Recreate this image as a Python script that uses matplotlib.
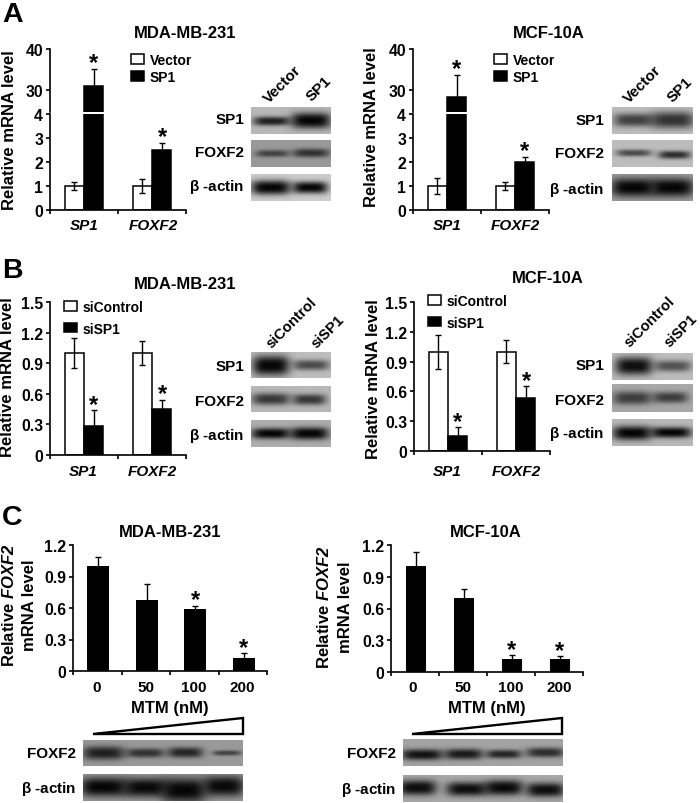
import numpy as np
import matplotlib
matplotlib.use("Agg")
import matplotlib.pyplot as plt
from matplotlib.patches import Polygon

plt.rcParams.update({
    'font.family': 'Liberation Sans', 'font.weight': 'bold',
    'mathtext.fontset': 'custom', 'mathtext.rm': 'Liberation Sans:bold',
    'mathtext.bf': 'Liberation Sans:bold', 'mathtext.it': 'Liberation Sans',
    'mathtext.bfit': 'Liberation Sans:italic:bold',
})

W, H = 700, 804
FS = 12
SMALL = 11
BETA = r'$\beta$ -actin'
FOX_LABEL = r'Relative $\mathbfit{FOXF2}$'

# ---- data -------------------------------------------------------------
genes = ['SP1', 'FOXF2']
doses = ['0', '50', '100', '200']

a1_ctrl, a1_ctrl_err = [1.0, 1.0], [0.15, 0.30]
a1_trt, a1_trt_err = [31.0, 2.5], [4.0, 0.30]
a2_ctrl, a2_ctrl_err = [1.0, 1.0], [0.32, 0.18]
a2_trt, a2_trt_err = [28.3, 2.0], [5.2, 0.20]

b1_ctrl, b1_ctrl_err = [1.0, 1.0], [0.15, 0.115]
b1_trt, b1_trt_err = [0.28, 0.45], [0.16, 0.09]
b2_ctrl, b2_ctrl_err = [1.0, 1.0], [0.17, 0.115]
b2_trt, b2_trt_err = [0.15, 0.53], [0.09, 0.12]

c1_vals, c1_err = [1.0, 0.68, 0.59, 0.12], [0.09, 0.15, 0.03, 0.05]
c2_vals, c2_err = [1.0, 0.70, 0.12, 0.12], [0.13, 0.08, 0.04, 0.03]

# Blot densitometry sketches: (lane centre, half width, band centre, half height, darkness)
blot_a1_sp1 = (.72, [(.26, .23, .54, .16, .85), (.75, .25, .52, .28, 1.0)])
blot_a1_fox = (.60, [(.27, .21, .50, .13, .60), (.75, .23, .48, .16, .70)])
blot_a1_act = (.80, [(.25, .25, .50, .27, 1.0), (.74, .22, .50, .22, 1.0)])
blot_a2_sp1 = (.74, [(.27, .25, .50, .24, .68), (.75, .27, .50, .30, .75)])
blot_a2_fox = (.74, [(.27, .22, .48, .13, .62), (.77, .20, .55, .15, .78)])
blot_a2_act = (.62, [(.26, .27, .50, .34, 1.0), (.74, .27, .50, .34, 1.0)])
blot_b1_sp1 = (.74, [(.25, .23, .52, .38, 1.0), (.75, .23, .50, .20, .62)])
blot_b1_fox = (.72, [(.25, .24, .50, .23, .72), (.73, .21, .52, .21, .72)])
blot_b1_act = (.68, [(.25, .24, .50, .20, 1.0), (.73, .24, .50, .23, 1.0)])
blot_b2_sp1 = (.74, [(.27, .23, .50, .32, .95), (.75, .23, .50, .20, .58)])
blot_b2_fox = (.66, [(.25, .24, .50, .24, .66), (.72, .22, .48, .20, .66)])
blot_b2_act = (.72, [(.25, .24, .52, .26, 1.0), (.73, .25, .50, .20, 1.0)])
blot_c1_fox = (.60, [(.13, .13, .50, .26, .82), (.39, .12, .50, .18, .70),
                     (.64, .11, .48, .20, .78), (.90, .09, .50, .10, .60)])
blot_c1_act = (.62, [(.13, .15, .48, .36, 1.0), (.39, .14, .50, .36, .97),
                     (.63, .14, .60, .46, 1.0), (.88, .13, .45, .38, .97)])
blot_c2_fox = (.64, [(.12, .13, .58, .20, .92), (.38, .12, .56, .20, .86),
                     (.63, .11, .56, .16, .80), (.89, .12, .50, .18, .75)])
blot_c2_act = (.66, [(.09, .12, .47, .28, .95), (.40, .13, .52, .26, .95),
                     (.63, .12, .47, .28, .98), (.89, .12, .55, .26, .95)])

# ---- helpers ----------------------------------------------------------
fig = plt.figure(figsize=(W / 100, H / 100), dpi=100, facecolor='white')
ov = fig.add_axes([0, 0, 1, 1], zorder=5)
ov.set_xlim(0, W); ov.set_ylim(H, 0); ov.axis('off'); ov.patch.set_alpha(0)


def pxaxes(x0, y0, x1, y1):
    ax = fig.add_axes([x0 / W, 1 - y1 / H, (x1 - x0) / W, (y1 - y0) / H])
    ax.patch.set_alpha(0)
    for s in ('top', 'right'):
        ax.spines[s].set_visible(False)
    for s in ax.spines.values():
        s.set_linewidth(1.2)
    ax.tick_params(length=3, width=1.2, labelsize=11.3, pad=2)
    return ax


def t(x, y, s, ha='center', size=FS, **kw):
    ov.text(x, y, s, ha=ha, va='center', fontsize=size, **kw)


def grouped(ax, ctrl, c_err, trt, t_err, w=0.28):
    x = np.arange(len(ctrl))
    h1 = ax.bar(x - w / 2, ctrl, w, color='white', edgecolor='black', linewidth=1.1)
    ax.errorbar(x - w / 2, ctrl, yerr=c_err, fmt='none', ecolor='black', elinewidth=1, capsize=2.2, capthick=1)
    h2 = ax.bar(x + w / 2, trt, w, color='black', edgecolor='black', linewidth=1.1)
    ax.errorbar(x + w / 2, trt, yerr=t_err, fmt='none', ecolor='black', elinewidth=1, capsize=2.2, capthick=1)
    ax.set_xlim(-0.5, 1.5)
    ax.set_xticks([-0.5, 0.5, 1.5])
    ax.set_xticklabels([])
    return h1, h2


def star(ax, x, y, dy):
    ax.annotate('*', xy=(x, y), xytext=(0, dy), textcoords='offset pixels', ha='center', va='center',
                fontsize=17, annotation_clip=False)


def legend(ax, handles, labels, x, y, spacing):
    ax.legend(handles, labels, loc='upper left', bbox_to_anchor=(x / W, 1 - y / H),
              bbox_transform=fig.transFigure, frameon=False, borderpad=0, borderaxespad=0,
              handlelength=0.92, handleheight=0.65, handletextpad=0.42,
              labelspacing=spacing, prop={'size': 10, 'weight': 'bold'})


def broken(x0, x1, ctrl, c_err, trt, t_err):
    lo = pxaxes(x0, 114.5, x1, 211)
    up = pxaxes(x0, 49.5, x1, 112.5)
    lo.set_ylim(0, 96.5 / 24); up.set_ylim(30 - (112.5 - 91) / 4.15, 30 + (91 - 49.5) / 4.15)
    h = grouped(lo, ctrl, c_err, trt, t_err)
    grouped(up, ctrl, c_err, trt, t_err)
    lo.set_yticks([0, 1, 2, 3, 4]); up.set_yticks([30, 40])
    up.spines['bottom'].set_visible(False)
    up.tick_params(axis='x', length=0)
    return lo, up, h


def blot(x0, y0, x1, y1, spec):
    bg, bands = spec
    ax = fig.add_axes([x0 / W, 1 - y1 / H, (x1 - x0) / W, (y1 - y0) / H])
    ax.axis('off')
    nx, ny = int(x1 - x0) * 2, int(y1 - y0) * 2
    X, Y = np.meshgrid((np.arange(nx) + .5) / nx, (np.arange(ny) + .5) / ny)
    img = np.full((ny, nx), float(bg))
    for cx, hw, cy, hh, d in bands:
        g = np.exp(-np.abs((X - cx) / hw) ** 4) * np.exp(-np.abs((Y - cy) / hh) ** 2.5)
        img = img * (1 - g * d) + 0.02 * g * d
    ax.imshow(img, cmap='gray', vmin=0, vmax=1, aspect='auto', interpolation='bilinear')


def gene_labels(a, b, y):
    t(a, y, genes[0], style='italic', size=SMALL)
    t(b, y, genes[1], style='italic', size=SMALL)


# ---- panel letters / titles -------------------------------------------
for y, s in ((22, 'A'), (278, 'B'), (525, 'C')):
    ov.text(2, y, s, ha='left', va='baseline', fontsize=20.5)
for x, y, s in ((185, 34, 'MDA-MB-231'), (549, 34, 'MCF-10A'), (185, 285, 'MDA-MB-231'),
                (548, 279, 'MCF-10A'), (170, 533, 'MDA-MB-231'), (486, 533, 'MCF-10A')):
    t(x, y, s)

# ---- panel A ----------------------------------------------------------
lo, up, h = broken(50, 186, a1_ctrl, a1_ctrl_err, a1_trt, a1_trt_err)
star(up, 0.14, a1_trt[0] + a1_trt_err[0], 7)
star(lo, 1.16, a1_trt[1] + a1_trt_err[1], 6)
legend(up, h, ['Vector', 'SP1'], 131, 54, 0.2)
gene_labels(84, 153, 226)
t(10, 130, 'Relative mRNA level', rotation=90)

lo, up, h = broken(413, 549, a2_ctrl, a2_ctrl_err, a2_trt, a2_trt_err)
star(up, 0.14, a2_trt[0] + a2_trt_err[0], 7)
star(lo, 1.14, a2_trt[1] + a2_trt_err[1], 7)
legend(up, h, ['Vector', 'SP1'], 494, 54, 0.2)
gene_labels(447, 515, 226)
t(372, 127, 'Relative mRNA level', rotation=90)

# ---- panel B ----------------------------------------------------------
for x0, x1, y0, ctrl, ce, trt, te, leg_x, leg_y, gx, ylx, yly in (
        (50, 186, 456, b1_ctrl, b1_ctrl_err, b1_trt, b1_trt_err, 64, 301, (83, 152), 8, 377),
        (414, 550, 452, b2_ctrl, b2_ctrl_err, b2_trt, b2_trt_err, 428, 295, (447, 516), 373, 379)):
    ax = pxaxes(x0, 303, x1, y0)
    ax.set_ylim(0, 1.5)
    h = grouped(ax, ctrl, ce, trt, te)
    ax.set_yticks([0, .3, .6, .9, 1.2, 1.5])
    ax.set_yticklabels(['0', '0.3', '0.6', '0.9', '1.2', '1.5'])
    star(ax, 0.14, trt[0] + te[0], 6)
    star(ax, 1.15, trt[1] + te[1], 6)
    legend(ax, h, ['siControl', 'siSP1'], leg_x, leg_y, 0.55)
    gene_labels(gx[0], gx[1], 472)
    t(ylx, yly, 'Relative mRNA level', rotation=90)

# ---- panel C ----------------------------------------------------------
for x0, x1, y0, vals, err, w, sx, lx, mx, yl1, yl2, yc in (
        (73, 267, 672, c1_vals, c1_err, 0.45, (2, 3), (97, 146, 194, 242), 170, 9, 30, 605),
        (391, 583, 673, c2_vals, c2_err, 0.43, (2, 3), (413, 463, 511, 559), 487, 324, 345, 607)):
    ax = pxaxes(x0, 546, x1, y0)
    ax.set_ylim(0, 1.2); ax.set_xlim(-0.5, 3.5)
    x = np.arange(len(vals))
    ax.bar(x + 0.02, vals, w, color='black')
    ax.errorbar(x + 0.02, vals, yerr=err, fmt='none', ecolor='black', elinewidth=1, capsize=2.2, capthick=1)
    ax.set_yticks([0, .3, .6, .9, 1.2])
    ax.set_yticklabels(['0', '0.3', '0.6', '0.9', '1.2'])
    ax.set_xticks(np.arange(-0.5, 4))
    ax.set_xticklabels([])
    for i in sx:
        star(ax, i + 0.02, vals[i] + err[i], 6)
    for px, s in zip(lx, doses):
        t(px, 688, s, size=SMALL)
    t(mx, 708.5, 'MTM (nM)')
    t(yl1, yc, FOX_LABEL, rotation=90)
    t(yl2, yc, 'mRNA level', rotation=90)

for pts in ([(93, 735), (243, 735), (243, 719)], [(412, 735), (562, 735), (562, 719)]):
    ov.add_patch(Polygon(pts, closed=True, facecolor='white', edgecolor='black', linewidth=1.7))

# ---- blots ------------------------------------------------------------
blot(251, 108, 331, 135, blot_a1_sp1); blot(251, 141, 331, 168, blot_a1_fox); blot(251, 175, 331, 202, blot_a1_act)
blot(612, 108, 692, 135, blot_a2_sp1); blot(612, 141, 692, 168, blot_a2_fox); blot(612, 175, 692, 202, blot_a2_act)
blot(251, 353, 331, 379, blot_b1_sp1); blot(251, 387, 331, 413, blot_b1_fox); blot(251, 421, 331, 448, blot_b1_act)
blot(612, 354, 692, 381, blot_b2_sp1); blot(612, 385, 692, 413, blot_b2_fox); blot(612, 420, 692, 447, blot_b2_act)
blot(83, 741, 243, 767, blot_c1_fox); blot(83, 775, 243, 802, blot_c1_act)
blot(403, 740, 563, 767, blot_c2_fox); blot(403, 776, 563, 803, blot_c2_act)

for xr, rows in ((244, ((120, 'SP1'), (153, 'FOXF2'), (187, BETA))),
                 (604, ((121, 'SP1'), (154, 'FOXF2'), (190, BETA))),
                 (244, ((367, 'SP1'), (402, 'FOXF2'), (436, BETA))),
                 (604, ((366, 'SP1'), (401, 'FOXF2'), (434, BETA))),
                 (76, ((754, 'FOXF2'), (789, BETA))),
                 (396, ((754, 'FOXF2'), (790, BETA)))):
    for y, s in rows:
        t(xr, y, s, ha='right', size=SMALL)

for x, y, s, size in ((283, 85, 'Vector', 11), (319, 89, 'SP1', 11), (643, 85, 'Vector', 11), (680, 90, 'SP1', 11),
                      (292, 323, 'siControl', 10.6), (328, 332, 'siSP1', 10.6),
                      (650, 322, 'siControl', 10.6), (681, 331, 'siSP1', 10.6)):
    t(x, y, s, rotation=45, rotation_mode='anchor', size=size)

fig.savefig('out.png', dpi=100)
